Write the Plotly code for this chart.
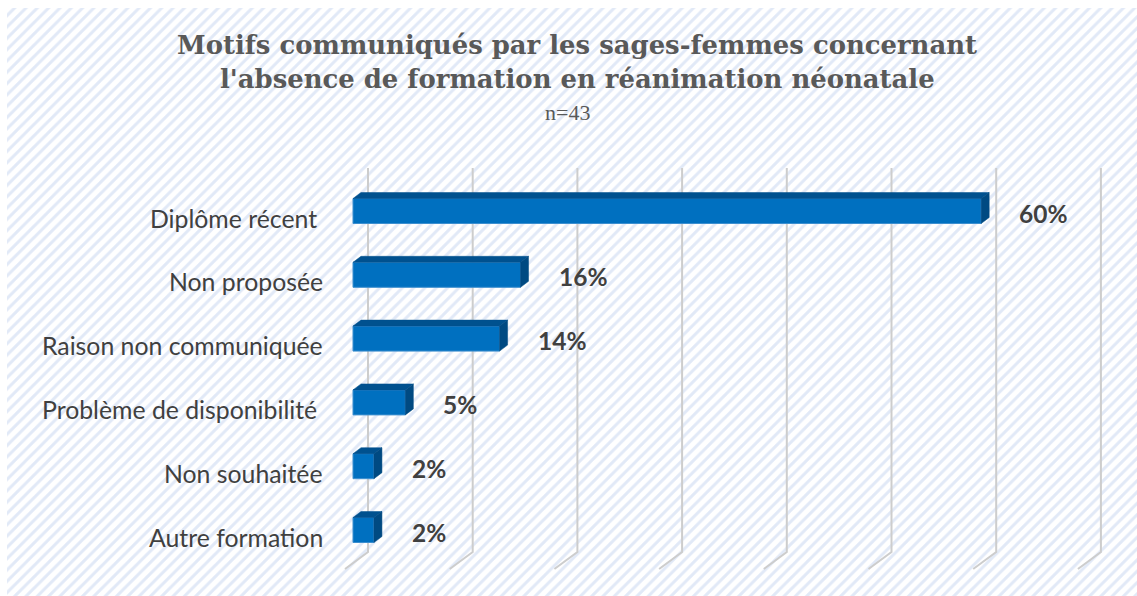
import plotly.graph_objects as go

# ---- data ----
categories = ["Diplôme récent ", "Non proposée", "Raison non communiquée",
              "Problème de disponibilité ", "Non souhaitée", "Autre formation"]
values = [60, 16, 14, 5, 2, 2]
value_labels = ["60%", "16%", "14%", "5%", "2%", "2%"]
grid_ticks = [0, 10, 20, 30, 40, 50, 60, 70]
title_line1 = "Motifs communiqués par les sages-femmes concernant"
title_line2 = "l'absence de formation en réanimation néonatale"
subtitle = "n=43"

W, H = 1137, 596

# ---- geometry (pixels -> data units) ----
px_per_x = 10.47
px_per_y = 63.8
plot_l, plot_r = 330, 1110
plot_t, plot_b = 160, 580
x0_px = 353           # pixel of value 0 (front face)
row_top_px = 211      # centre of first row
n = len(categories)

x_min = (plot_l - x0_px) / px_per_x
x_max = (plot_r - x0_px) / px_per_x
y_top = (n - 1) + (row_top_px - plot_t) / px_per_y
y_bot = (n - 1) - (plot_b - row_top_px) / px_per_y

def py2y(py):
    return (n - 1) + (row_top_px - py) / px_per_y

ypos = [n - 1 - i for i in range(n)]
bar_h = 25 / px_per_y
ddx = 8 / px_per_x
ddy = 6 / px_per_y

front = "#0070C0"
top_c = "#00518f"
side_c = "#004a82"

fig = go.Figure()

# hatched background on a full-page subplot
fig.add_trace(go.Scatter(
    x=[7, W, W, 7, 7], y=[8, 8, H, H, 8], mode="lines", fill="toself",
    line=dict(width=0), fillcolor="white",
    fillpattern=dict(shape="/", fgcolor="#c4d3ef", bgcolor="white", size=8, solidity=0.38),
    xaxis="x", yaxis="y", hoverinfo="skip", showlegend=False))

# gridlines (back wall + floor diagonal)
g_dx = 15 / px_per_x
f_dx = 23 / px_per_x
gy_top = py2y(168)
gy_bot = py2y(552)
gy_floor = py2y(569)
for t in grid_ticks:
    xb = t + g_dx
    fig.add_trace(go.Scatter(
        x=[xb, xb, xb - f_dx], y=[gy_top, gy_bot, gy_floor], mode="lines",
        line=dict(color="#cdcdcd", width=2), xaxis="x2", yaxis="y2",
        hoverinfo="skip", showlegend=False))

# 3D bars: front, top and side faces
for v, y in zip(values, ypos):
    yt = y + bar_h / 2
    yb = y - bar_h / 2
    fig.add_trace(go.Scatter(
        x=[0, v, v, 0, 0], y=[yb, yb, yt, yt, yb],
        mode="lines", fill="toself", fillcolor=front, line=dict(width=1, color="#3d8fcf"),
        xaxis="x2", yaxis="y2", hoverinfo="skip", showlegend=False))
    fig.add_trace(go.Scatter(
        x=[0, v, v + ddx, ddx, 0], y=[yt, yt, yt + ddy, yt + ddy, yt],
        mode="lines", fill="toself", fillcolor=top_c, line=dict(width=0.5, color=top_c),
        xaxis="x2", yaxis="y2", hoverinfo="skip", showlegend=False))
    fig.add_trace(go.Scatter(
        x=[v, v + ddx, v + ddx, v, v], y=[yb, yb + ddy, yt + ddy, yt, yb],
        mode="lines", fill="toself", fillcolor=side_c, line=dict(width=0.5, color=side_c),
        xaxis="x2", yaxis="y2", hoverinfo="skip", showlegend=False))

annotations = []
# value labels
for v, y, lab in zip(values, ypos, value_labels):
    annotations.append(dict(
        x=v, y=y, xref="x2", yref="y2", text=lab, showarrow=False,
        xanchor="left", yanchor="middle", xshift=36, yshift=-2,
        font=dict(family="Lato", size=24.5, color="#404040", weight="bold")))
# category labels
for c, y in zip(categories, ypos):
    annotations.append(dict(
        x=(plot_l - 5) / W, y=y, xref="paper", yref="y2",
        text=c.replace(" ", "\u00a0") if c.endswith(" ") else c, showarrow=False,
        xanchor="right", yanchor="middle", yshift=-7,
        font=dict(family="Lato", size=24.8, color="#404040")))
# titles
annotations.append(dict(
    x=577 / W, y=1 - 45 / H, xref="paper", yref="paper", text="<b>" + title_line1 + "</b>",
    showarrow=False, xanchor="center", yanchor="middle",
    font=dict(family="DejaVu Serif", size=25.9, color="#595959")))
annotations.append(dict(
    x=577 / W, y=1 - 79 / H, xref="paper", yref="paper", text="<b>" + title_line2 + "</b>",
    showarrow=False, xanchor="center", yanchor="middle",
    font=dict(family="DejaVu Serif", size=25.9, color="#595959")))
annotations.append(dict(
    x=567 / W, y=1 - 113 / H, xref="paper", yref="paper", text=subtitle,
    showarrow=False, xanchor="center", yanchor="middle",
    font=dict(family="Liberation Serif", size=22, color="#595959")))

hidden = dict(visible=False, showgrid=False, zeroline=False, fixedrange=True)
fig.update_layout(
    width=W, height=H, margin=dict(l=0, r=0, t=0, b=0, pad=0),
    paper_bgcolor="white", plot_bgcolor="rgba(0,0,0,0)",
    xaxis=dict(domain=[0, 1], range=[0, W], **hidden),
    yaxis=dict(domain=[0, 1], range=[H, 0], **hidden),
    xaxis2=dict(domain=[plot_l / W, plot_r / W], range=[x_min, x_max], anchor="y2", **hidden),
    yaxis2=dict(domain=[1 - plot_b / H, 1 - plot_t / H], range=[y_bot, y_top], anchor="x2", **hidden),
    annotations=annotations, hovermode=False, showlegend=False,
)

fig.write_html("out.html", config={"displayModeBar": False},
               post_script="document.body.style.margin='0';document.body.style.padding='0';")
